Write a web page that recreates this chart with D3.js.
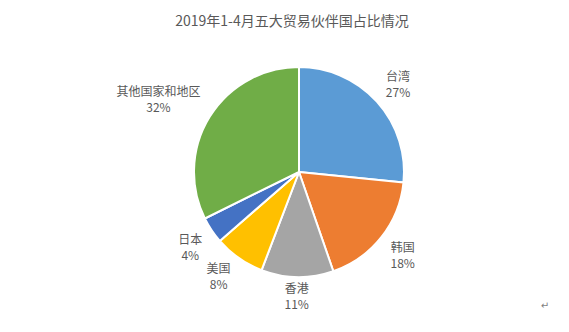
<!DOCTYPE html>
<html><head><meta charset="utf-8">
<script src="https://cdn.jsdelivr.net/npm/d3@7"></script>
<style>html,body{margin:0;padding:0;background:#fff;}svg{display:block;}</style>
</head><body>
<svg id="c" width="569" height="332"></svg>
<script>
const title = "2019年1-4月五大贸易伙伴国占比情况";
const categories = ["台湾","韩国","香港","美国","日本","其他国家和地区"];
const values = [26.6, 18.1, 11.1, 7.8, 4.1, 32.3];
const colors = ["#5B9BD5","#ED7D31","#A5A5A5","#FFC000","#4472C4","#70AD47"];

const W = 569, H = 332;
const cx = 299, cy = 172, r = 105;
const font = "'Noto Sans CJK SC','Microsoft YaHei',sans-serif";
const svg = d3.select("#c");

svg.append("text").attr("x", 292).attr("y", 26).attr("text-anchor","middle")
  .attr("font-family", font).attr("font-size", 14).attr("fill","#595959").text(title);

const total = d3.sum(values);
const pie = d3.pie().sort(null).value(d => d)(values);
const arc = d3.arc().innerRadius(0).outerRadius(r);
const g = svg.append("g").attr("transform", `translate(${cx},${cy})`);
g.selectAll("path").data(pie).join("path")
  .attr("d", arc).attr("fill", (d,i) => colors[i])
  .attr("stroke","#fff").attr("stroke-width",2).attr("stroke-linejoin","round");

const clamp = v => Math.max(-1, Math.min(1, v));
pie.forEach((d,i) => {
  const a = (d.startAngle + d.endAngle)/2;
  const s = Math.sin(a), c = Math.cos(a);
  const ax = (r+4)*s, ay = -(r+4)*c;
  const lg = g.append("g");
  const t1 = lg.append("text").attr("text-anchor","middle").attr("font-family",font)
    .attr("font-size",12).attr("fill","#595959").attr("y",-3).text(categories[i]);
  const t2 = lg.append("text").attr("text-anchor","middle").attr("font-family",font)
    .attr("font-size",12).attr("fill","#595959").attr("y",13)
    .text(Math.round(values[i]/total*100) + "%");
  const wd = Math.max(t1.node().getComputedTextLength(), t2.node().getComputedTextLength());
  const hw = wd/2 + 6, hh = 15;
  const x = ax + hw*clamp(s*2), y = ay - hh*clamp(c*2);
  lg.attr("transform", `translate(${x},${y})`);
});

svg.append("text").attr("x",545).attr("y",309).attr("text-anchor","middle")
  .attr("font-family","'DejaVu Sans',sans-serif").attr("font-size",10).attr("fill","#7f7f7f").text("↵");
</script>
</body></html>
